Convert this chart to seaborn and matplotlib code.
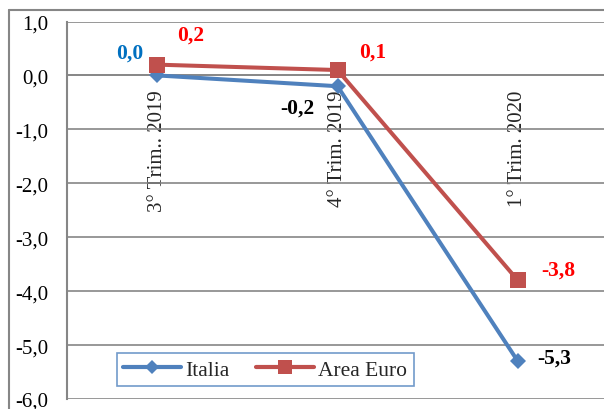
import matplotlib
matplotlib.use("Agg")
import matplotlib.pyplot as plt
from matplotlib.lines import Line2D
from matplotlib.ticker import FixedLocator, FuncFormatter
import seaborn as sns
import pandas as pd

# Quarterly GDP change (%), Italy vs. Euro area
quarters = ["3° Trim.. 2019", "4° Trim. 2019", "1° Trim. 2020"]
italia = [0.0, -0.2, -5.3]
area_euro = [0.2, 0.1, -3.8]
series_names = ["Italia", "Area Euro"]
label_colors_italia = ["#0070C0", "black", "black"]
label_colors_euro = ["#FF0000", "#FF0000", "#FF0000"]
y_ticks = [1, 0, -1, -2, -3, -4, -5, -6]

df = pd.DataFrame({
    "trimestre": quarters * 2,
    "valore": italia + area_euro,
    "serie": [series_names[0]] * 3 + [series_names[1]] * 3,
})

sns.set_style("white")
SERIF = ["Liberation Serif", "DejaVu Serif"]
plt.rcParams["font.family"] = SERIF

BLUE = "#4F81BD"
RED = "#C0504D"
GRID = "#868686"

fig = plt.figure(figsize=(6.04, 4.10), dpi=100)
ax = fig.add_axes([67 / 604, 1 - 400 / 410, 541 / 604, 377.5 / 410])

sns.lineplot(
    data=df, x="trimestre", y="valore", hue="serie", style="serie",
    hue_order=series_names, style_order=series_names,
    palette={"Italia": BLUE, "Area Euro": RED},
    markers={"Italia": "D", "Area Euro": "s"}, dashes=False,
    linewidth=2.9, markeredgewidth=0, sort=False, ax=ax, legend=False,
)
for ln in ax.lines:
    if ln.get_marker() == "D":
        ln.set_markersize(8.6)
    elif ln.get_marker() == "s":
        ln.set_markersize(11.5)
    ln.set_zorder(4)

ax.set_xlim(-0.5, 2.5)
ax.set_ylim(-6, 1)
ax.set_xlabel("")
ax.set_ylabel("")

# horizontal gridlines
ax.set_yticks(y_ticks)
ax.yaxis.set_major_formatter(FuncFormatter(lambda v, p: f"{v:.1f}".replace(".", ",")))
ax.grid(axis="y", color=GRID, linewidth=1.2)
ax.grid(axis="x", visible=False)
ax.set_axisbelow(True)

for s in ["top", "right"]:
    ax.spines[s].set_visible(False)
ax.spines["left"].set_color(GRID)
ax.spines["left"].set_linewidth(1.5)
ax.spines["bottom"].set_position(("data", 0))
ax.spines["bottom"].set_color(GRID)
ax.spines["bottom"].set_linewidth(1.2)

ax.tick_params(axis="y", direction="out", length=5, width=1.2, color=GRID,
               labelsize=15, pad=8.5, labelcolor="black")
ax.xaxis.set_minor_locator(FixedLocator([0.5, 1.5]))
ax.tick_params(axis="x", which="major", length=0, labelsize=15,
               pad=10, labelrotation=90)
ax.tick_params(axis="x", which="minor", direction="out", length=4,
               width=1.2, color=GRID)
for lab in ax.get_xticklabels() + ax.get_yticklabels():
    lab.set_family(SERIF)
for lab in ax.get_xticklabels():
    lab.set_verticalalignment("top")
    lab.set_horizontalalignment("center")

# value labels
def fmt(v):
    return f"{v:.1f}".replace(".", ",")

offs_italia = [(-27, 23), (-40, -21), (36, 4)]
offs_euro = [(33, 30), (35, 18), (40, 11)]
for i, (v, c, o) in enumerate(zip(italia, label_colors_italia, offs_italia)):
    ax.annotate(fmt(v), (i, v), xytext=o, textcoords="offset pixels",
                ha="center", va="center", fontsize=15.5, fontweight="bold",
                family=SERIF, color=c, zorder=6)
for i, (v, c, o) in enumerate(zip(area_euro, label_colors_euro, offs_euro)):
    ax.annotate(fmt(v), (i, v), xytext=o, textcoords="offset pixels",
                ha="center", va="center", fontsize=15.5, fontweight="bold",
                family=SERIF, color=c, zorder=6)

handles = [
    Line2D([], [], color=BLUE, marker="D", markersize=7.5, linewidth=3,
           markeredgewidth=0),
    Line2D([], [], color=RED, marker="s", markersize=10, linewidth=3,
           markeredgewidth=0),
]
leg = ax.legend(handles, series_names, loc="lower left",
                bbox_to_anchor=(0.092, 0.034), borderaxespad=0, ncol=2,
                frameon=True, fancybox=False,
                prop={"family": SERIF, "size": 15.5}, handlelength=2.7,
                handletextpad=0.2, columnspacing=1.2, borderpad=0.3)
leg.get_frame().set_edgecolor(BLUE)
leg.get_frame().set_linewidth(1.2)
leg.set_zorder(5)

# outer chart-area border
fig.add_artist(Line2D([9 / 604, 9 / 604], [0, 1 - 11 / 410],
                      transform=fig.transFigure, color=GRID, linewidth=1.5))
fig.add_artist(Line2D([9 / 604, 1], [1 - 11 / 410, 1 - 11 / 410],
                      transform=fig.transFigure, color=GRID, linewidth=1.5))

fig.savefig("out.png", dpi=100)
